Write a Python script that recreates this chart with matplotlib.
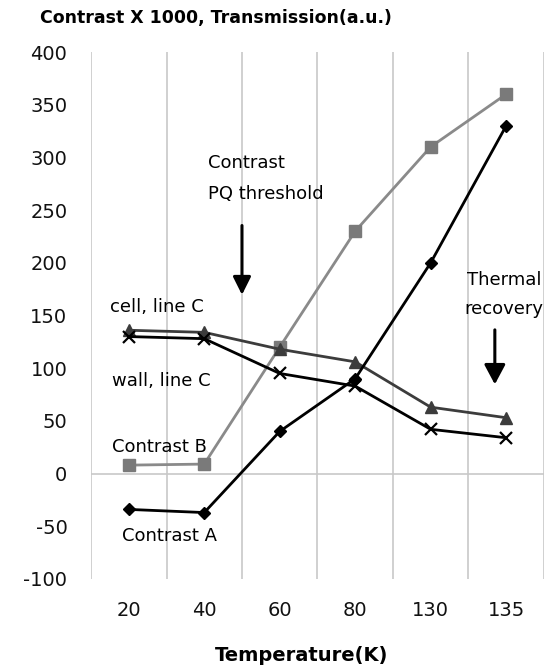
import matplotlib
matplotlib.use("Agg")
import matplotlib.pyplot as plt

# data
temps = ["20", "40", "60", "80", "130", "135"]
contrast_a = [-34, -37, 40, 90, 200, 330]
contrast_b = [8, 9, 120, 230, 310, 360]
cell_line_c = [136, 134, 118, 106, 63, 53]
wall_line_c = [130, 128, 95, 83, 42, 34]

plt.rcParams['font.family'] = ['DejaVu Sans']
plt.rcParams['axes.unicode_minus'] = False

fig = plt.figure(figsize=(5.55, 6.67), dpi=100)
ax = fig.add_axes([0.164, 0.132, 0.816, 0.790])

x = list(range(len(temps)))

ax.plot(x, contrast_b, color='#8a8a8a', lw=2, marker='s', ms=8, mfc='#7a7a7a', mec='#7a7a7a')
ax.plot(x, cell_line_c, color='#3c3c3c', lw=2, marker='^', ms=8, mfc='#3c3c3c', mec='#3c3c3c')
ax.plot(x, wall_line_c, color='black', lw=2, marker='x', ms=9, mew=1.6)
ax.plot(x, contrast_a, color='black', lw=2, marker='D', ms=6, mfc='black', mec='black')

# vertical gridlines on category boundaries, horizontal at zero
for b in range(len(temps) + 1):
    ax.axvline(b - 0.5, color='#c8c8c8', lw=1.2, zorder=0)
ax.axhline(0, color='#c8c8c8', lw=1.2, zorder=0)

ax.set_xlim(-0.5, len(temps) - 0.5)
ax.set_ylim(-100, 400)
ax.set_yticks(range(-100, 401, 50))
ax.set_xticks(x)
ax.set_xticklabels(temps)
ax.tick_params(length=0, labelsize=14, colors='#111111')
ax.tick_params(axis='y', pad=17)
ax.tick_params(axis='x', pad=16)
for s in ax.spines.values():
    s.set_visible(False)

# series labels
ax.text(-0.25, 153, "cell, line C", fontsize=13)
ax.text(-0.22, 83, "wall, line C", fontsize=13)
ax.text(-0.22, 20, "Contrast B", fontsize=13)
ax.text(-0.09, -64, "Contrast A", fontsize=13)

# annotations
ax.text(1.05, 290, "Contrast", fontsize=13)
ax.text(1.05, 261, "PQ threshold", fontsize=13)
ax.annotate("", xy=(1.5, 167), xytext=(1.5, 238),
            arrowprops=dict(arrowstyle='-|>,head_length=0.54,head_width=0.27',
                            color='black', lw=2.2, mutation_scale=20))
ax.text(4.97, 179, "Thermal", fontsize=13, ha='center')
ax.text(4.97, 151, "recovery", fontsize=13, ha='center')
ax.annotate("", xy=(4.85, 82), xytext=(4.85, 139),
            arrowprops=dict(arrowstyle='-|>,head_length=0.6,head_width=0.32',
                            color='black', lw=2.2, mutation_scale=20))

fig.text(0.072, 0.973, "Contrast X 1000, Transmission(a.u.)", fontsize=12.5,
         fontweight='bold', va='center')
fig.text(0.543, 0.009, "Temperature(K)", fontsize=14, fontweight='bold',
         ha='center', va='baseline')

fig.savefig("out.png", dpi=100)
